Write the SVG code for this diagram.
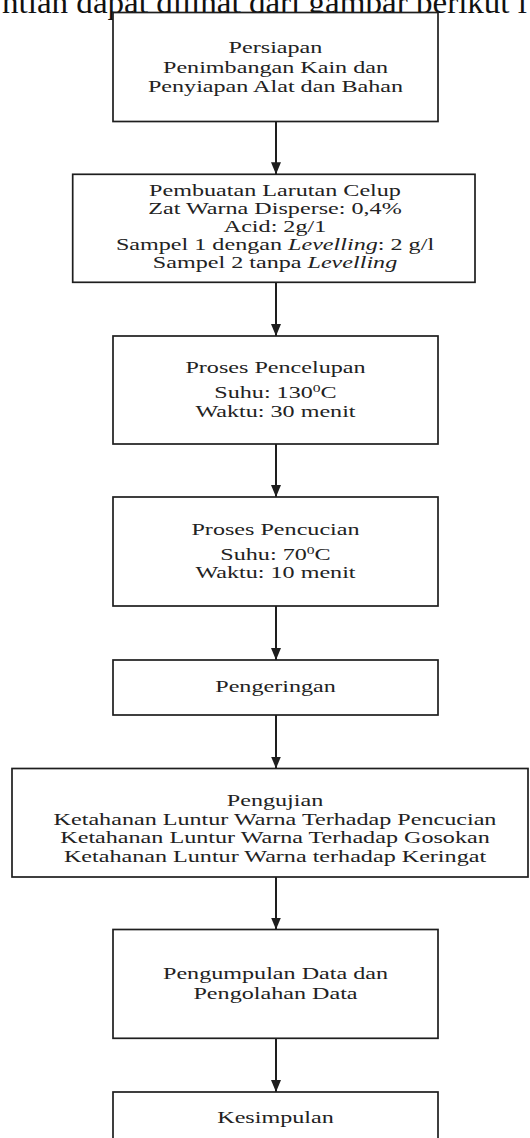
<svg xmlns="http://www.w3.org/2000/svg" width="530" height="1138" viewBox="0 0 530 1138">
<style>
.box{fill:#fff;stroke:#1e1e1e;stroke-width:1.7}
.t{font-family:"Liberation Serif","Times New Roman",serif;font-size:17px;fill:#222;text-anchor:middle}
.i{font-style:italic}
.edge{stroke:#1e1e1e;stroke-width:2;fill:none}
.top{font-family:"Liberation Serif","Times New Roman",serif;font-size:32px;fill:#111}
</style>
<defs>
<marker id="ah" markerUnits="userSpaceOnUse" markerWidth="12" markerHeight="10" refX="12" refY="5" orient="auto">
<path d="M0,0 L12,5 L0,10 Z" fill="#1e1e1e"/>
</marker>
</defs>
<rect width="530" height="1138" fill="#fff"/>
<text class="top" x="2" y="13" textLength="525" lengthAdjust="spacingAndGlyphs">ntian dapat dilihat dari gambar berikut i</text>

<g id="connectors">
<line class="edge" x1="276" y1="121.5" x2="276" y2="174.3" marker-end="url(#ah)"/>
<line class="edge" x1="276" y1="282.3" x2="276" y2="336" marker-end="url(#ah)"/>
<line class="edge" x1="276" y1="444" x2="276" y2="497" marker-end="url(#ah)"/>
<line class="edge" x1="276" y1="606" x2="276" y2="660" marker-end="url(#ah)"/>
<line class="edge" x1="276" y1="715" x2="276" y2="768.5" marker-end="url(#ah)"/>
<line class="edge" x1="276" y1="877" x2="276" y2="929.5" marker-end="url(#ah)"/>
<line class="edge" x1="276" y1="1038.3" x2="276" y2="1092" marker-end="url(#ah)"/>
</g>

<g id="n1">
<rect class="box" x="113" y="12.5" width="325" height="109"/>
<g transform="translate(275.5 0) scale(1.42 1)">
<text class="t" x="0" y="53.5">Persiapan</text>
<text class="t" x="0" y="73">Penimbangan Kain dan</text>
<text class="t" x="0" y="92.5">Penyiapan Alat dan Bahan</text>
</g>
</g>

<g id="n2">
<rect class="box" x="72.7" y="174.3" width="402.3" height="108"/>
<g transform="translate(275 0) scale(1.42 1)">
<text class="t" x="0" y="196">Pembuatan Larutan Celup</text>
<text class="t" x="0" y="214">Zat Warna Disperse: 0,4%</text>
<text class="t" x="0" y="232.5">Acid: 2g/1</text>
<text class="t" x="0" y="250.5">Sampel 1 dengan <tspan class="i">Levelling</tspan>: 2 g/l</text>
<text class="t" x="0" y="268.5">Sampel 2 tanpa <tspan class="i">Levelling</tspan></text>
</g>
</g>

<g id="n3">
<rect class="box" x="113" y="336" width="325" height="108"/>
<g transform="translate(275.5 0) scale(1.42 1)">
<text class="t" x="0" y="373.5">Proses Pencelupan</text>
<text class="t" x="0" y="397.7">Suhu: 130<tspan font-size="11" dy="-6">0</tspan><tspan dy="6">C</tspan></text>
<text class="t" x="0" y="417.3">Waktu: 30 menit</text>
</g>
</g>

<g id="n4">
<rect class="box" x="113" y="497" width="325" height="109"/>
<g transform="translate(275.5 0) scale(1.42 1)">
<text class="t" x="0" y="535">Proses Pencucian</text>
<text class="t" x="0" y="560">Suhu: 70<tspan font-size="11" dy="-6">0</tspan><tspan dy="6">C</tspan></text>
<text class="t" x="0" y="578.5">Waktu: 10 menit</text>
</g>
</g>

<g id="n5">
<rect class="box" x="113" y="660" width="325" height="55"/>
<g transform="translate(275.5 0) scale(1.42 1)">
<text class="t" x="0" y="692.5">Pengeringan</text>
</g>
</g>

<g id="n6">
<rect class="box" x="12" y="768.5" width="516" height="108.5"/>
<g transform="translate(275 0) scale(1.42 1)">
<text class="t" x="0" y="806">Pengujian</text>
<text class="t" x="0" y="825">Ketahanan Luntur Warna Terhadap Pencucian</text>
<text class="t" x="0" y="843.5">Ketahanan Luntur Warna Terhadap Gosokan</text>
<text class="t" x="0" y="862">Ketahanan Luntur Warna terhadap Keringat</text>
</g>
</g>

<g id="n7">
<rect class="box" x="113" y="929.5" width="325" height="108.8"/>
<g transform="translate(275.5 0) scale(1.42 1)">
<text class="t" x="0" y="979.5">Pengumpulan Data dan</text>
<text class="t" x="0" y="999.5">Pengolahan Data</text>
</g>
</g>

<g id="n8">
<rect class="box" x="113" y="1092" width="325" height="70"/>
<g transform="translate(275.5 0) scale(1.42 1)">
<text class="t" x="0" y="1123.5">Kesimpulan</text>
</g>
</g>
</svg>
